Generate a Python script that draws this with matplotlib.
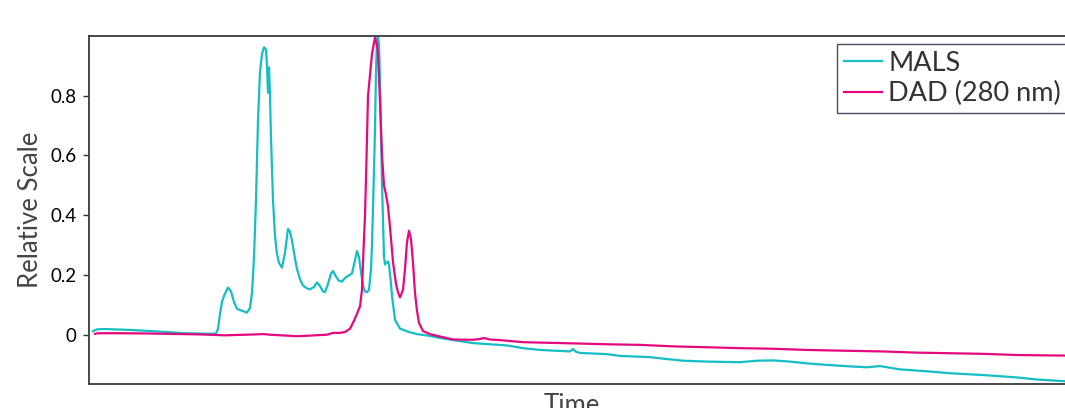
import matplotlib
matplotlib.use("Agg")
import matplotlib.pyplot as plt

# ── Trace data (time in arbitrary units, signal normalised) ─────────────

mals_time = [
    4, 8, 16, 41, 63, 96, 123, 127, 129, 131, 133, 135, 139, 142, 145, 148,
    153, 158, 161, 163, 165, 167, 169, 171, 173, 175, 177, 178, 179, 180,
    181, 182, 184, 186, 188, 190, 193, 196, 199, 201, 203, 206, 208, 211,
    214, 218, 221, 225, 228, 231, 234, 236, 239, 242, 244, 247, 250, 253,
    256, 259, 263, 266, 268, 270, 272, 274, 276, 278, 280, 282, 283, 285,
    286, 287, 288, 289, 290, 291, 293, 295, 296, 297, 299, 300, 302, 303,
    306, 311, 314, 319, 328, 341, 351, 368, 384, 401, 418, 434, 451, 481,
    484, 487, 491, 518, 531, 561, 571, 594, 618, 651, 668, 684, 701, 718,
    738, 761, 778, 791, 811, 844, 861, 894, 928, 948, 977,
]
mals_signal = [
    0.012, 0.018, 0.019, 0.016, 0.012, 0.005, 0.003, 0.004, 0.02, 0.07,
    0.11, 0.13, 0.158, 0.145, 0.11, 0.087, 0.08, 0.074, 0.09, 0.14, 0.26,
    0.45, 0.72, 0.88, 0.94, 0.962, 0.955, 0.90, 0.81, 0.895, 0.80, 0.66,
    0.45, 0.33, 0.27, 0.24, 0.225, 0.275, 0.354, 0.345, 0.315, 0.255, 0.22,
    0.185, 0.165, 0.155, 0.152, 0.16, 0.175, 0.163, 0.145, 0.142, 0.17,
    0.205, 0.213, 0.195, 0.18, 0.178, 0.19, 0.197, 0.205, 0.25, 0.28, 0.26,
    0.21, 0.165, 0.145, 0.142, 0.15, 0.22, 0.30, 0.55, 0.69, 0.88, 0.99,
    1.0, 0.97, 0.85, 0.51, 0.26, 0.235, 0.24, 0.245, 0.235, 0.17, 0.13,
    0.05, 0.02, 0.017, 0.01, 0.002, -0.004, -0.011, -0.02, -0.028, -0.032,
    -0.036, -0.045, -0.051, -0.056, -0.048, -0.057, -0.061, -0.065, -0.071,
    -0.075, -0.079, -0.087, -0.09, -0.092, -0.087, -0.086, -0.09, -0.096,
    -0.101, -0.106, -0.109, -0.105, -0.116, -0.124, -0.129, -0.135, -0.143,
    -0.15, -0.156,
]

dad_time = [
    6, 9, 31, 63, 111, 136, 166, 175, 181, 208, 221, 238, 244, 251, 256,
    261, 264, 267, 271, 273, 274, 276, 277, 279, 281, 283, 286, 288, 289,
    291, 293, 295, 297, 299, 301, 304, 307, 309, 311, 314, 316, 318, 320,
    322, 324, 326, 328, 330, 334, 341, 351, 364, 384, 391, 395, 401, 411,
    434, 484, 518, 551, 584, 618, 651, 684, 718, 761, 794, 828, 861, 894,
    928, 977,
]
dad_signal = [
    0.003, 0.005, 0.005, 0.004, 0.001, -0.002, 0.001, 0.002, 0.0, -0.005,
    -0.003, 0.0, 0.006, 0.006, 0.009, 0.02, 0.04, 0.062, 0.095, 0.15,
    0.243, 0.40, 0.52, 0.80, 0.87, 0.94, 0.995, 0.97, 0.94, 0.78, 0.60,
    0.50, 0.47, 0.43, 0.36, 0.243, 0.17, 0.142, 0.125, 0.15, 0.22, 0.31,
    0.348, 0.32, 0.24, 0.14, 0.08, 0.04, 0.012, 0.002, -0.006, -0.016,
    -0.017, -0.014, -0.011, -0.016, -0.018, -0.025, -0.029, -0.032, -0.034,
    -0.039, -0.042, -0.045, -0.047, -0.051, -0.054, -0.056, -0.06, -0.062,
    -0.064, -0.068, -0.07,
]

y_ticks = [0, 0.2, 0.4, 0.6, 0.8]
y_tick_labels = ["0", "0.2", "0.4", "0.6", "0.8"]

MALS_COLOR = "#14BEC4"
DAD_COLOR = "#E6087F"

plt.rcParams["font.family"] = ["Lato", "DejaVu Sans"]

fig = plt.figure(figsize=(10.65, 4.08), dpi=100)
# axes run past the right edge of the canvas, like the original crop
ax = fig.add_axes([89 / 1065, 24 / 408, 986 / 1065, 348 / 408])

ax.plot(mals_time, mals_signal, color=MALS_COLOR, linewidth=1.6, label="MALS")
ax.plot(dad_time, dad_signal, color=DAD_COLOR, linewidth=1.6, label="DAD (280 nm)")

ax.set_xlim(0, 986)
ax.set_ylim(-0.165, 1.0)
ax.set_xticks([])
ax.set_yticks(y_ticks)
ax.set_yticklabels(y_tick_labels)
ax.tick_params(axis="y", length=4, width=1, colors="#333333", labelcolor="black",
               labelsize=13.5, pad=5)

for side in ("left", "top", "bottom", "right"):
    ax.spines[side].set_color("#3a3a3a")
    ax.spines[side].set_linewidth(1.3)

ax.set_ylabel("Relative Scale", fontsize=18.5, color="#444444", labelpad=5)
ax.set_xlabel("Time", fontsize=18.5, color="#444444")
ax.xaxis.set_label_coords((572 - 89) / 986, -0.025)
ax.xaxis.label.set_va("top")

leg = ax.legend(loc="upper right", bbox_to_anchor=((1068 - 89) / 986, (384 - 44) / 348),
                fontsize=19.5, frameon=True, fancybox=False, handlelength=1.4,
                handletextpad=0.25, borderpad=0.25, labelspacing=0.2, borderaxespad=0)
leg.get_frame().set_edgecolor("#1c1f3a")
leg.get_frame().set_linewidth(1.0)
for text in leg.get_texts():
    text.set_color("#333333")

fig.savefig("out.png", dpi=100)
